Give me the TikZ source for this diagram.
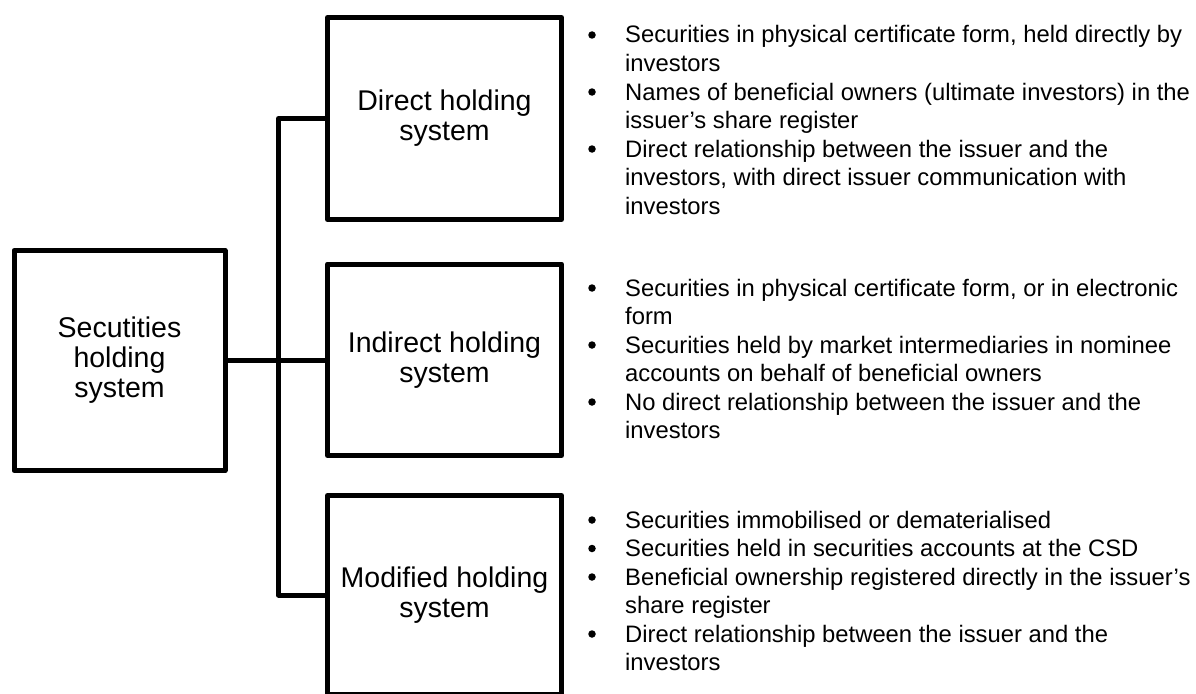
\documentclass[tikz,border=0pt]{standalone}
\usepackage{fontspec}
\setmainfont{Liberation Sans}
\usetikzlibrary{calc}
\newcommand{\lines}[1]{\begin{tabular}[t]{@{}l@{}}#1\end{tabular}}
\begin{document}
\begin{tikzpicture}[x=1pt,y=-1pt,
  boxnode/.style={draw=black, line width=5pt, line join=round, align=center, inner sep=0pt,
    font=\fontsize{28.5}{30}\selectfont},
  conn/.style={draw=black, line width=5pt, line join=round},
  item/.style={inner sep=0pt, anchor=base west, font=\fontsize{23.8}{28.5}\selectfont},
  bulletdot/.style={fill=black}]
\useasboundingbox (0,0) rectangle (1196,693);
\clip (0,0) rectangle (1196,693);
\node[boxnode, minimum width=211pt, minimum height=220pt] (root) at (119.5,360.5) {Secutities\\holding\\system};
\node[boxnode, minimum width=234pt, minimum height=202pt] (dir) at (444.5,118.5) {Direct holding\\system};
\node[boxnode, minimum width=234pt, minimum height=191.5pt] (ind) at (444.5,359.75) {Indirect holding\\system};
\node[boxnode, minimum width=234pt, minimum height=199pt] (mod) at (444.5,595) {Modified holding\\system};
\coordinate (trunk) at (278.5,0);
\draw[conn] (root.east) -- (root.east -| ind.west);
\draw[conn] (dir.west) -- (dir.west -| trunk) -- (mod.west -| trunk) -- (mod.west);
% direct holding items
\node[item] (a1) at (625,43) {\lines{Securities in physical certificate form, held directly by\\investors}};
\node[item] (a2) at (625,100) {\lines{Names of beneficial owners (ultimate investors) in the\\issuer’s share register}};
\node[item] (a3) at (625,157) {\lines{Direct relationship between the issuer and the\\investors, with direct issuer communication with\\investors}};
% indirect holding items
\node[item] (b1) at (625,296) {\lines{Securities in physical certificate form, or in electronic\\form}};
\node[item] (b2) at (625,353) {\lines{Securities held by market intermediaries in nominee\\accounts on behalf of beneficial owners}};
\node[item] (b3) at (625,410) {\lines{No direct relationship between the issuer and the\\investors}};
% modified holding items
\node[item] (c1) at (625,528) {Securities immobilised or dematerialised};
\node[item] (c2) at (625,556.5) {Securities held in securities accounts at the CSD};
\node[item] (c3) at (625,585) {\lines{Beneficial ownership registered directly in the issuer’s\\share register}};
\node[item] (c4) at (625,642) {\lines{Direct relationship between the issuer and the\\investors}};
\foreach \n in {a1,a2,a3,b1,b2,b3,c1,c2,c3,c4}
  \fill[bulletdot] ($(\n.base west)+(-33,-8)$) circle (3.75pt);
\end{tikzpicture}
\end{document}
